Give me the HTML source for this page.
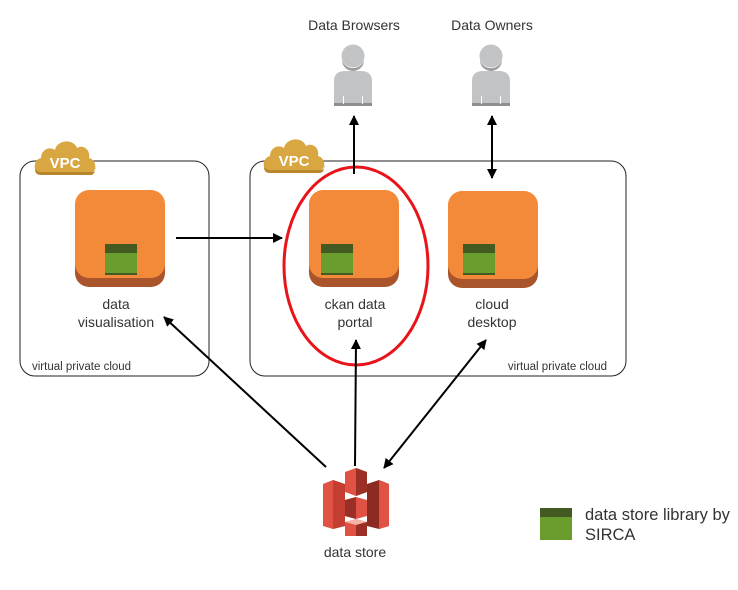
<!DOCTYPE html>
<html><head><meta charset="utf-8"><style>
html,body{margin:0;padding:0;background:#fff;}
svg{display:block;}
text{font-family:"Liberation Sans",sans-serif;fill:#333;}
</style></head><body>
<svg width="738" height="590" viewBox="0 0 738 590" xmlns="http://www.w3.org/2000/svg">
<defs>
<marker id="ah" markerWidth="10" markerHeight="10" refX="9" refY="5" orient="auto" markerUnits="userSpaceOnUse">
<path d="M0,0 L10,5 L0,10 z" fill="#000"/></marker>
<marker id="as" markerWidth="10" markerHeight="10" refX="1" refY="5" orient="auto" markerUnits="userSpaceOnUse">
<path d="M10,0 L0,5 L10,10 z" fill="#000"/></marker>
<g id="cloud">
<path d="M4,34 C-2,34 -2,22 6,20 C6,12 14,8 20,12 C22,2 38,0 42,10 C48,6 56,12 54,20 C62,22 62,34 56,34 Z" fill="#d9a742"/>
<path d="M4,34 L56,34 C60,34 61,31 60,29 L60,31 C60,35 58,37 56,37 L6,37 C2,37 0,35 0,31 Z" fill="#b8862c"/>
<text x="30" y="30" text-anchor="middle" font-size="15" font-weight="bold" style="fill:#fff">VPC</text>
</g>
<g id="inst">
<rect x="0" y="5" width="90" height="92" rx="14" fill="#a9542a"/>
<rect x="0" y="0" width="90" height="88" rx="14" fill="#f38a39"/>
</g>
<g id="lib">
<rect x="0" y="0" width="32" height="31" fill="#6b9c2e"/>
<rect x="0" y="0" width="32" height="9" fill="#435a22"/>
<rect x="0" y="29" width="32" height="2" fill="#435a22"/>
</g>
<g id="person">
<circle cx="0" cy="0" r="11.5" fill="#c2c3c5"/>
<path d="M-11,4 A11,11 0 0 0 11,4 A11.5,11.5 0 0 1 -11,4z" fill="#9a9b9d"/>
<path d="M-19,50 L-19,25 C-19,17 -13,15 -8,15 L8,15 C13,15 19,17 19,25 L19,50 Z" fill="#c2c3c5"/>
<rect x="-19" y="47" width="38" height="3" fill="#8e8f91"/>
<rect x="-10" y="40" width="1" height="8" fill="#fff"/>
<rect x="9" y="40" width="1" height="8" fill="#fff"/>
</g>
</defs>

<rect x="20" y="161" width="189" height="215" rx="15" fill="none" stroke="#222" stroke-width="1"/>
<rect x="250" y="161" width="376" height="215" rx="15" fill="none" stroke="#222" stroke-width="1"/>
<use href="#cloud" x="35" y="138"/>
<use href="#cloud" x="264" y="136"/>
<text x="32" y="370" font-size="11.5">virtual private cloud</text>
<text x="607" y="370" font-size="11.5" text-anchor="end">virtual private cloud</text>

<use href="#inst" x="75" y="190"/>
<use href="#inst" x="309" y="190"/>
<use href="#inst" x="448" y="191"/>
<use href="#lib" x="105" y="244"/>
<use href="#lib" x="321" y="244"/>
<use href="#lib" x="463" y="244"/>

<text x="116" y="309" font-size="14" text-anchor="middle">data</text>
<text x="116" y="327" font-size="14" text-anchor="middle">visualisation</text>
<text x="355" y="309" font-size="14" text-anchor="middle">ckan data</text>
<text x="355" y="327" font-size="14" text-anchor="middle">portal</text>
<text x="492" y="309" font-size="14" text-anchor="middle">cloud</text>
<text x="492" y="327" font-size="14" text-anchor="middle">desktop</text>

<ellipse cx="356" cy="266" rx="72" ry="99" fill="none" stroke="#e8141a" stroke-width="3"/>

<text x="354" y="30" font-size="14" text-anchor="middle">Data Browsers</text>
<text x="492" y="30" font-size="14" text-anchor="middle">Data Owners</text>
<use href="#person" x="353" y="56"/>
<use href="#person" x="491" y="56"/>

<g stroke="#000" stroke-width="2" fill="none">
<line x1="176" y1="238" x2="282" y2="238" marker-end="url(#ah)"/>
<line x1="354" y1="174" x2="354" y2="116" marker-end="url(#ah)"/>
<line x1="492" y1="178" x2="492" y2="116" marker-end="url(#ah)" marker-start="url(#as)"/>
<line x1="326" y1="467" x2="164" y2="317" marker-end="url(#ah)"/>
<line x1="355" y1="466" x2="356" y2="340" marker-end="url(#ah)"/>
<line x1="384" y1="468" x2="486" y2="340" marker-end="url(#ah)" marker-start="url(#as)"/>
</g>

<g>
<path d="M323,484 L333,480 L345,484 L345,526 L333,529 L323,526 Z" fill="#e05243"/>
<path d="M333,480 L345,484 L345,526 L333,529 Z" fill="#c43f31"/>
<path d="M389,484 L379,480 L367,484 L367,526 L379,529 L389,526 Z" fill="#8c2b22"/>
<path d="M379,480 L389,484 L389,526 L379,529 Z" fill="#e05243"/>
<path d="M345,472 L356,468 L367,472 L367,492 L356,496 L345,492 Z" fill="#e05243"/>
<path d="M356,468 L367,472 L367,492 L356,496 Z" fill="#9a2f25"/>
<path d="M345,500 L356,497 L367,500 L367,516 L356,519 L345,516 Z" fill="#e05243"/>
<path d="M345,500 L356,497 L356,519 L345,516 Z" fill="#9a2f25"/>
<path d="M345,522 L356,519 L367,522 L367,536 L345,536 Z" fill="#e05243"/>
<path d="M345,522 L356,519 L367,522 L356,525 Z" fill="#f4b3a9"/>
<path d="M356,525 L367,522 L367,536 L356,536 Z" fill="#9a2f25"/>
</g>
<text x="355" y="557" font-size="14" text-anchor="middle">data store</text>

<rect x="540" y="508" width="32" height="32" fill="#6b9c2e"/>
<rect x="540" y="508" width="32" height="9" fill="#435a22"/>
<text x="585" y="520" font-size="16.5">data store library by</text>
<text x="585" y="540" font-size="16.5">SIRCA</text>
</svg>
</body></html>
